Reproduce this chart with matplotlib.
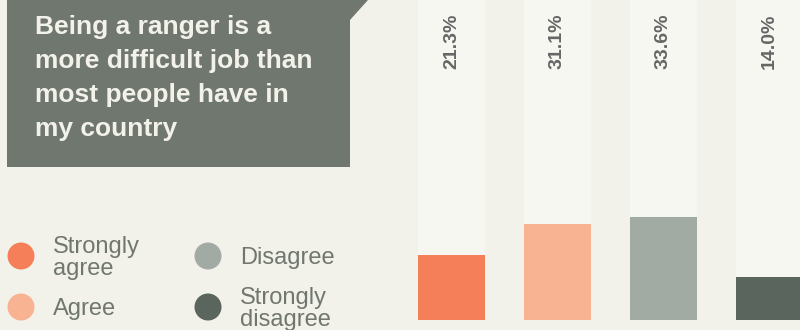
import matplotlib.pyplot as plt
from matplotlib.patches import Polygon, Circle

plt.rcParams['font.family'] = ['Liberation Sans', 'DejaVu Sans']

categories = ['Strongly agree', 'Agree', 'Disagree', 'Strongly disagree']
legend_labels = ['Strongly\nagree', 'Agree', 'Disagree', 'Strongly\ndisagree']
values = [21.3, 31.1, 33.6, 14.0]
colors = ['#F47F59', '#F8B393', '#A2AAA4', '#5A655D']
title = 'Being a ranger is a\nmore difficult job than\nmost people have in\nmy country'

bg = '#F3F2EA'
W, H = 800, 330
fig = plt.figure(figsize=(8, 3.3), dpi=100, facecolor=bg)

# overlay in pixel coords for title box and legend
deco = fig.add_axes([0, 0, 1, 1])
deco.set_xlim(0, W)
deco.set_ylim(H, 0)
deco.axis('off')
deco.set_facecolor(bg)

box = Polygon([(7, 0), (368, 0), (350, 20), (350, 167), (7, 167)],
              closed=True, facecolor='#6F776F', edgecolor='none')
deco.add_patch(box)
deco.text(35, 15, title, color='#F3F2EA', fontsize=19, fontweight='bold',
          va='top', ha='left', linespacing=1.53)

leg_pos = [(21, 256), (21, 307), (208, 256), (208, 307)]
for (cx, cy), lab, c in zip(leg_pos, legend_labels, colors):
    deco.add_patch(Circle((cx, cy), 13.5, facecolor=c, edgecolor='none'))
    deco.text(cx + 32, cy + 2, lab, color='#6F776F', fontsize=17,
              va='center', ha='left', linespacing=0.95)

# bar chart
ax = fig.add_axes([398.5 / W, 10 / H, (W - 398.5) / W, 320 / H])
ax.patch.set_alpha(0)
ax.set_xlim(-0.5, 3.288)
ax.set_ylim(0, 104.2)
x = range(len(values))
ax.bar(x, [104.2] * len(values), width=0.632, color='#F7F7F2', zorder=1)
ax.bar(x, values, width=0.632, color=colors, zorder=2)
for xi, v in zip(x, values):
    ax.text(xi, 99.8, f'{v:.1f}%', rotation=90, ha='center', va='top',
            fontsize=14, fontweight='bold', color='#666666', zorder=3)
ax.axis('off')

fig.savefig('out.png', dpi=100, facecolor=bg)
